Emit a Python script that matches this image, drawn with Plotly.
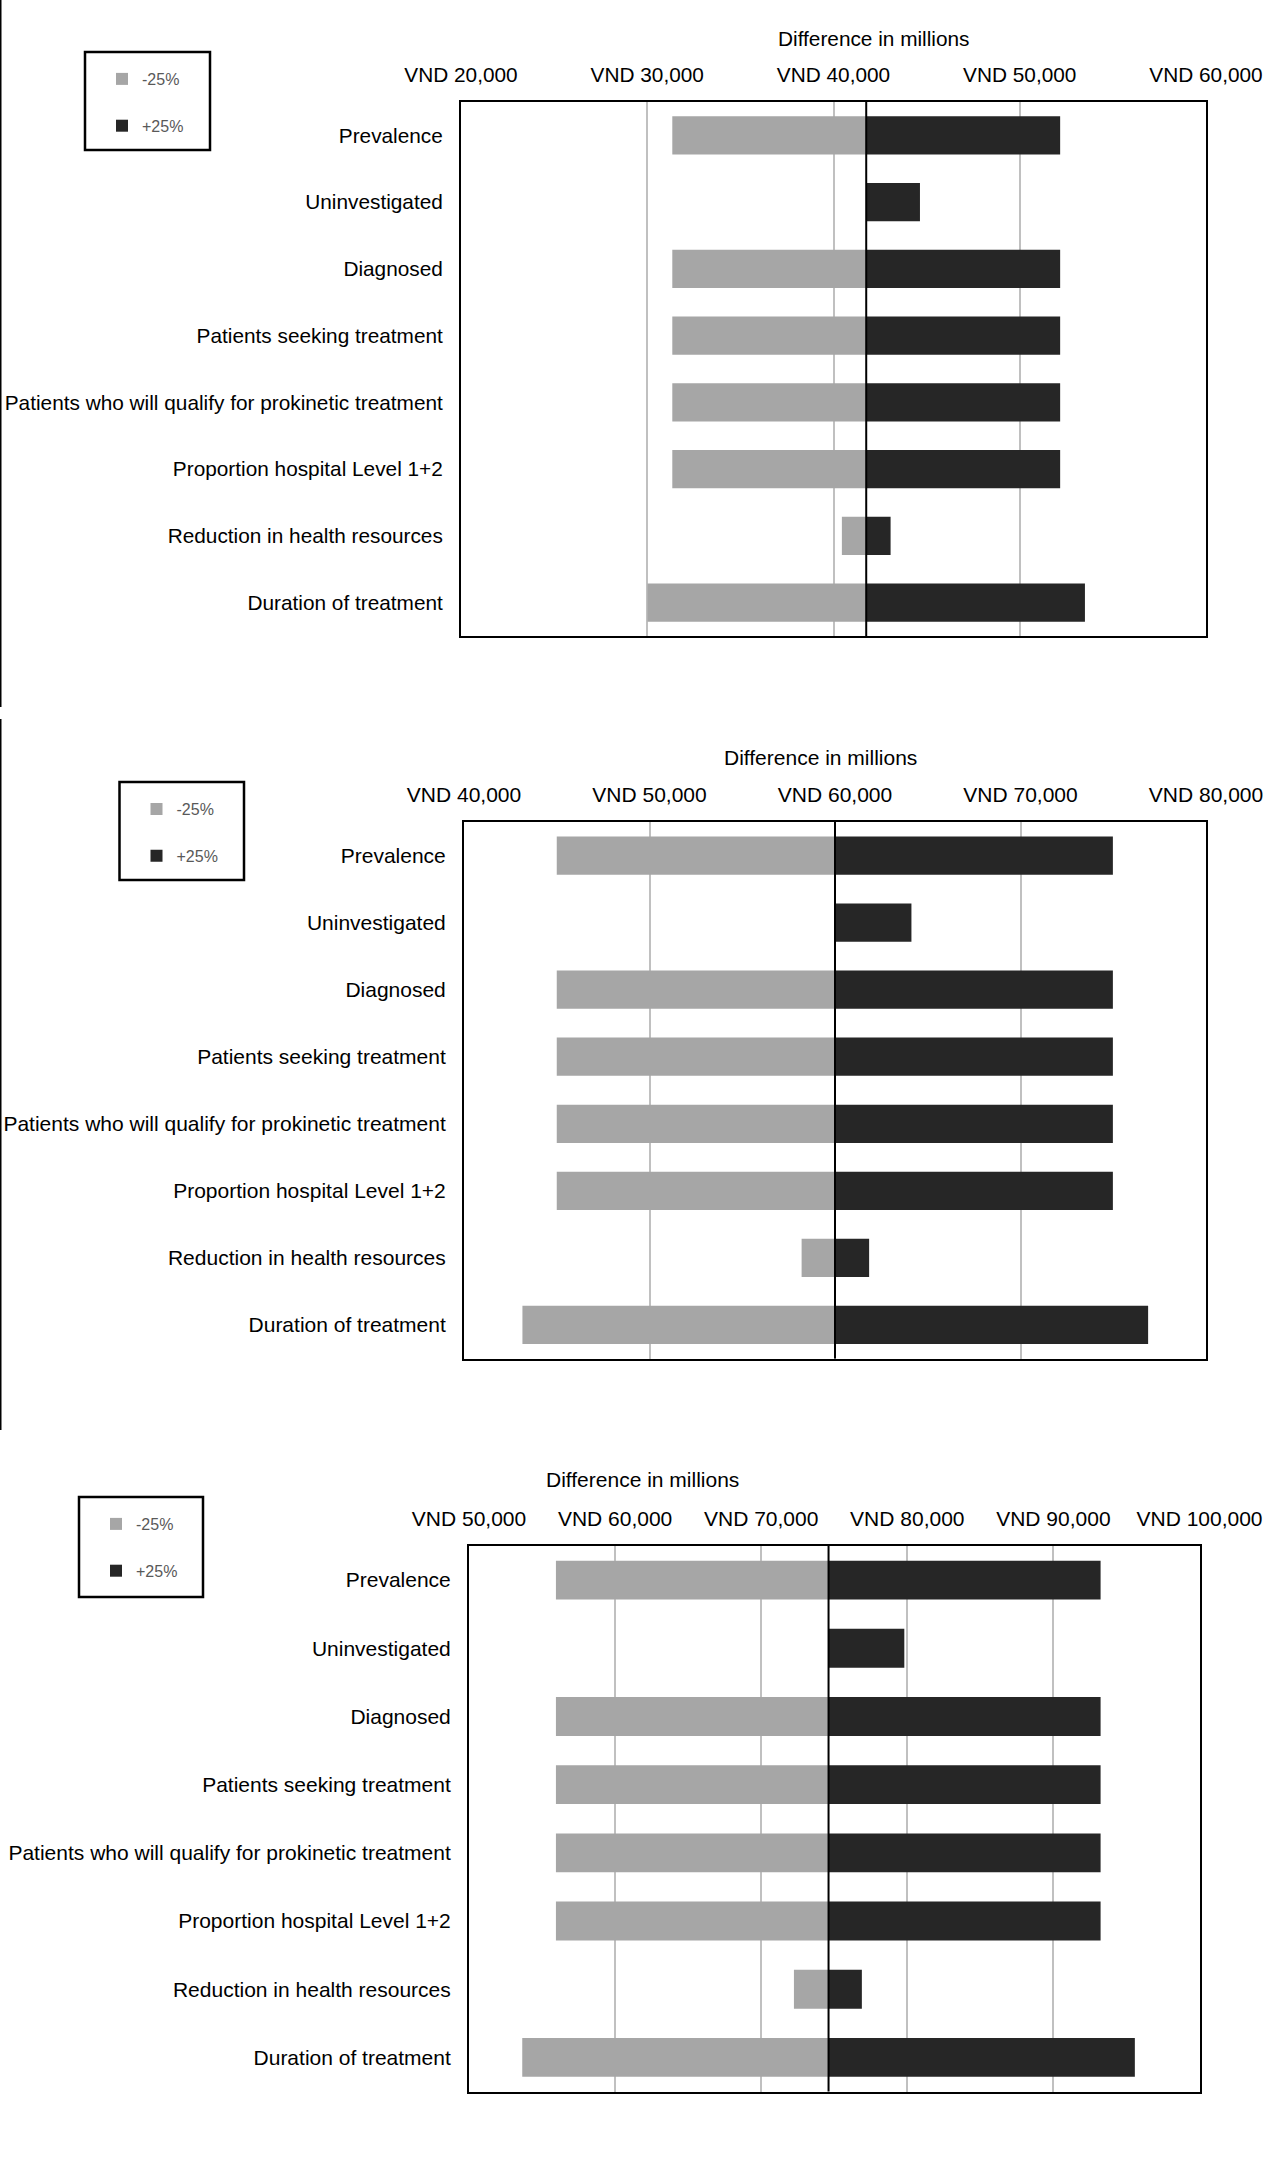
import plotly.graph_objects as go

W, H = 1275, 2165

categories = [
    "Prevalence",
    "Uninvestigated",
    "Diagnosed",
    "Patients seeking treatment",
    "Patients who will qualify for prokinetic treatment",
    "Proportion hospital Level 1+2",
    "Reduction in health resources",
    "Duration of treatment",
]
series_names = ["-25%", "+25%"]
axis_title = "Difference in millions"

# Chart 1
base_1 = 41757
low_1 = [31345, 41757, 31345, 31345, 31345, 31345, 40450, 30010]
high_1 = [52169, 44642, 52169, 52169, 52169, 52169, 43065, 53500]
ticks_1 = [20000, 30000, 40000, 50000, 60000]

# Chart 2
base_2 = 60000
low_2 = [45000, 60000, 45000, 45000, 45000, 45000, 58200, 43150]
high_2 = [74980, 64120, 74980, 74980, 74980, 74980, 61840, 76880]
ticks_2 = [40000, 50000, 60000, 70000, 80000]

# Chart 3
base_3 = 74610
low_3 = [55950, 74610, 55950, 55950, 55950, 55950, 72240, 53645]
high_3 = [93230, 79796, 93230, 93230, 93230, 93230, 76890, 95575]
ticks_3 = [50000, 60000, 70000, 80000, 90000, 100000]

GRAY = "#a6a6a6"
DARK = "#262626"
FONT = "Liberation Sans, Arial, sans-serif"


def px(x):
    return x / W


def py(y):
    return 1 - y / H


charts = [
    dict(base=base_1, low=low_1, high=high_1, ticks=ticks_1,
         box=(461, 1206, 102, 636), title=(874, 39), leg=(85, 210, 52, 150), fs=20.8),
    dict(base=base_2, low=low_2, high=high_2, ticks=ticks_2,
         box=(464, 1206, 822, 1358.5), title=(820, 757), leg=(119.5, 244, 782, 880), fs=21),
    dict(base=base_3, low=low_3, high=high_3, ticks=ticks_3,
         box=(469, 1199.5, 1546, 2091.5), title=(642, 1479), leg=(79, 203, 1497, 1597), fs=21),
]

fig = go.Figure()
shapes = []
annotations = []
layout_extra = {}

for i, c in enumerate(charts):
    n = i + 1
    xa = "x" if n == 1 else f"x{n}"
    ya = "y" if n == 1 else f"y{n}"
    legname = "legend" if n == 1 else f"legend{n}"
    base = c["base"]
    gray_len = [base - v for v in c["low"]]
    dark_len = [v - base for v in c["high"]]
    fig.add_trace(go.Bar(
        y=categories, x=gray_len, base=c["low"], orientation="h",
        name=series_names[0], marker=dict(color=GRAY, line=dict(width=0)),
        xaxis=xa, yaxis=ya, legend=legname, legendgroup=f"g{n}a",
        hoverinfo="skip",
    ))
    fig.add_trace(go.Bar(
        y=categories, x=dark_len, base=[base] * len(categories), orientation="h",
        name=series_names[1], marker=dict(color=DARK, line=dict(width=0)),
        xaxis=xa, yaxis=ya, legend=legname, legendgroup=f"g{n}b",
        hoverinfo="skip",
    ))
    l, r, t, b = c["box"]
    xkey = "xaxis" if n == 1 else f"xaxis{n}"
    ykey = "yaxis" if n == 1 else f"yaxis{n}"
    layout_extra[xkey] = dict(
        domain=[px(l), px(r)], range=[c["ticks"][0], c["ticks"][-1]],
        anchor=ya, side="top", tickmode="array", tickvals=c["ticks"],
        ticktext=["VND " + f"{v:,}" for v in c["ticks"]],
        showgrid=True, gridcolor="#c0c0c0", gridwidth=1.5,
        zeroline=False, showline=True, mirror=True, linecolor="black",
        linewidth=2, ticks="", ticklabelstandoff=10, automargin=False,
        tickfont=dict(family=FONT, size=c["fs"], color="black"),
        fixedrange=True,
    )
    layout_extra[ykey] = dict(
        domain=[py(b), py(t)], anchor=xa, categoryorder="array",
        categoryarray=categories, autorange="reversed",
        showline=True, mirror=True, linecolor="black", linewidth=2,
        showgrid=False, zeroline=False, ticks="", ticklabelstandoff=12,
        automargin=False,
        tickfont=dict(family=FONT, size=c["fs"], color="black"),
        fixedrange=True,
    )
    shapes.append(dict(type="line", xref=xa, yref=f"{ya} domain",
                       x0=base, x1=base, y0=0, y1=1,
                       line=dict(color="black", width=2), layer="above"))
    tx, ty = c["title"]
    annotations.append(dict(text=axis_title, x=px(tx), y=py(ty), xref="paper",
                            yref="paper", showarrow=False, xanchor="center",
                            yanchor="middle",
                            font=dict(family=FONT, size=c["fs"], color="black")))
    ll, lr, lt, lb = c["leg"]
    shapes.append(dict(type="rect", xref="paper", yref="paper",
                       x0=px(ll), x1=px(lr), y0=py(lb), y1=py(lt),
                       line=dict(color="black", width=2.5),
                       fillcolor="rgba(0,0,0,0)"))
    layout_extra[legname] = dict(
        x=px(ll + 17), y=py(lt + 10), xanchor="left", yanchor="top",
        bgcolor="rgba(0,0,0,0)", borderwidth=0, tracegroupgap=23,
        font=dict(family=FONT, size=16, color="#595959"),
        itemclick=False, itemdoubleclick=False,
    )

shapes.append(dict(type="line", xref="paper", yref="paper", x0=px(0.75), x1=px(0.75),
                   y0=py(0), y1=py(707), line=dict(color="black", width=1.5)))
shapes.append(dict(type="line", xref="paper", yref="paper", x0=px(0.75), x1=px(0.75),
                   y0=py(719), y1=py(1430), line=dict(color="black", width=1.5)))

fig.update_layout(
    template="none",
    width=W, height=H, autosize=False,
    margin=dict(l=0, r=0, t=0, b=0, pad=0, autoexpand=False),
    paper_bgcolor="white", plot_bgcolor="white",
    barmode="overlay", bargap=0.43,
    showlegend=True,
    shapes=shapes, annotations=annotations,
    font=dict(family=FONT, color="black"),
    **layout_extra,
)

fig.write_html("out.html", config={"displayModeBar": False},
               post_script="document.body.style.margin='0';")
